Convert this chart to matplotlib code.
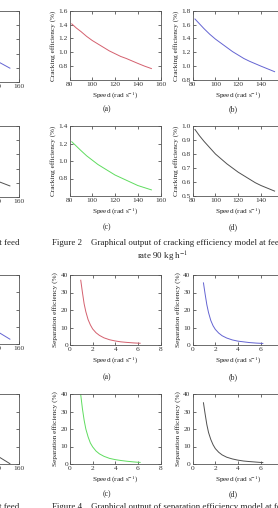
import matplotlib
matplotlib.use('Agg')
import matplotlib.pyplot as plt
from matplotlib.ticker import FormatStrFormatter

plt.rcParams['font.family'] = ['Liberation Serif', 'DejaVu Serif']
plt.rcParams['mathtext.fontset'] = 'stix'

# cracking efficiency (%) vs speed (rad/s), figure 2 (a)-(d)
crack_speed = [82, 86, 90, 95, 100, 105, 110, 115, 120, 125, 130, 135, 140, 146, 152]
crack_a = [1.41, 1.35, 1.30, 1.23, 1.17, 1.12, 1.07, 1.02, 0.98, 0.94, 0.91, 0.875, 0.84, 0.80, 0.765]
crack_b = [1.68, 1.61, 1.54, 1.46, 1.39, 1.33, 1.27, 1.21, 1.16, 1.11, 1.07, 1.035, 1.00, 0.96, 0.92]
crack_c = [1.22, 1.17, 1.12, 1.06, 1.01, 0.96, 0.92, 0.88, 0.84, 0.81, 0.78, 0.75, 0.72, 0.695, 0.67]
crack_d = [0.975, 0.93, 0.89, 0.845, 0.80, 0.765, 0.73, 0.70, 0.67, 0.645, 0.62, 0.595, 0.575, 0.555, 0.535]

# separation efficiency (%) vs speed (rad/s), figure 4 (a)-(d)
sep_speed = [0.95, 1.1, 1.25, 1.4, 1.6, 1.8, 2.0, 2.3, 2.6, 3.0, 3.5, 4.0, 4.5, 5.0, 5.6, 6.2]
sep_a = [37, 30, 23.5, 19, 14.5, 11.5, 9.2, 7.0, 5.5, 4.1, 3.0, 2.3, 1.8, 1.5, 1.2, 1.0]
sep_b = [35.5, 29, 23, 18.5, 14, 11, 8.9, 6.8, 5.3, 4.0, 2.9, 2.2, 1.8, 1.4, 1.1, 0.9]
sep_c = [39.5, 31.5, 25, 20, 15.5, 12, 9.8, 7.4, 5.8, 4.4, 3.2, 2.5, 2.0, 1.6, 1.2, 0.9]
sep_d = [35, 28.5, 22.5, 18, 14, 11, 8.8, 6.7, 5.2, 3.9, 2.9, 2.2, 1.7, 1.4, 1.1, 0.8]

# neighbouring column (only the right edge is on the page crop)
left_speed = [82, 90, 100, 110, 120, 130, 140, 152]
left_crack1 = [1.75, 1.60, 1.45, 1.34, 1.24, 1.16, 1.10, 0.995]
left_crack2 = [1.0, 0.92, 0.84, 0.77, 0.71, 0.66, 0.615, 0.578]
left_sep1 = [38, 30, 23, 18, 14, 10.5, 7.6, 2.8]
left_sep2 = [36, 28, 21, 16, 12, 8.5, 5.0, 0.2]

RED, BLUE, GREEN, GREY = '#d4606e', '#6464d2', '#5fdc5f', '#505050'
W, H = 278, 508
fig = plt.figure(figsize=(W / 100, H / 100), dpi=100)
fig.patch.set_facecolor('white')


def px_axes(x0, y0, x1, y1):
    return fig.add_axes([x0 / W, 1 - y1 / H, (x1 - x0) / W, (y1 - y0) / H])


def style(ax, xlim, ylim, xticks, yticks, ylabel, fmt):
    ax.set_xlim(xlim)
    ax.set_ylim(ylim)
    ax.set_xticks(xticks)
    ax.set_yticks(yticks)
    ax.yaxis.set_major_formatter(FormatStrFormatter(fmt))
    ax.tick_params(direction='in', top=True, right=True, length=2, width=0.5,
                   labelsize=5.3, pad=1.5, colors='#333333')
    for s in ax.spines.values():
        s.set_linewidth(0.6)
        s.set_color('#555555')
    ax.set_xlabel('Speed (rad s$^{-1}$)', fontsize=5.2, labelpad=2.3, color='#222222')
    ax.set_ylabel(ylabel, fontsize=5.2, labelpad=1.8, color='#222222')


def label(x, y, s, size=5.6, ha='center'):
    fig.text(x / W, 1 - y / H, s, fontsize=size, ha=ha, va='center', color='#222222')


crack_lab = 'Cracking efficiency (%)'
sep_lab = 'Separation efficiency (%)'
cx = [80, 100, 120, 140, 160]
sx = [0, 2, 4, 6, 8]
sy = [0, 10, 20, 30, 40]

rows = [(10.7, 80), (126, 196), (275, 345), (394, 464)]

# cracking
ax = px_axes(-72, 11, 19, 82)
ax.plot(left_speed, left_crack1, color=BLUE, lw=0.7)
style(ax, (80, 160), (0.8, 1.8), cx, [0.8, 1.0, 1.2, 1.4, 1.6, 1.8], crack_lab, '%.1f')

ax = px_axes(69.5, rows[0][0], 160.5, rows[0][1])
ax.plot(crack_speed, crack_a, color=RED, lw=0.7)
style(ax, (80, 160), (0.6, 1.6), cx, [0.8, 1.0, 1.2, 1.4, 1.6], crack_lab, '%.1f')

ax = px_axes(192.7, rows[0][0], 283.7, rows[0][1])
ax.plot(crack_speed, crack_b, color=BLUE, lw=0.7)
style(ax, (80, 160), (0.8, 1.8), cx, [0.8, 1.0, 1.2, 1.4, 1.6, 1.8], crack_lab, '%.1f')

ax = px_axes(-72, 126, 19, 197)
ax.plot(left_speed, left_crack2, color=GREY, lw=0.7)
style(ax, (80, 160), (0.5, 1.0), cx, [0.5, 0.6, 0.7, 0.8, 0.9, 1.0], crack_lab, '%.1f')

ax = px_axes(69.5, rows[1][0], 160.5, rows[1][1])
ax.plot(crack_speed, crack_c, color=GREEN, lw=0.7)
style(ax, (80, 160), (0.6, 1.4), cx, [0.8, 1.0, 1.2, 1.4], crack_lab, '%.1f')

ax = px_axes(192.7, rows[1][0], 283.7, rows[1][1])
ax.plot(crack_speed, crack_d, color=GREY, lw=0.7)
style(ax, (80, 160), (0.5, 1.0), cx, [0.5, 0.6, 0.7, 0.8, 0.9, 1.0], crack_lab, '%.1f')

# separation
ax = px_axes(-72, 275, 19, 344)
ax.plot(left_speed, left_sep1, color=BLUE, lw=0.7)
style(ax, (80, 160), (0, 40), cx, sy, sep_lab, '%d')

ax = px_axes(70, rows[2][0], 160.5, rows[2][1])
ax.plot(sep_speed, sep_a, color=RED, lw=0.7)
style(ax, (0, 8), (0, 40), sx, sy, sep_lab, '%d')

ax = px_axes(192.7, rows[2][0], 283.2, rows[2][1])
ax.plot(sep_speed, sep_b, color=BLUE, lw=0.7)
style(ax, (0, 8), (0, 40), sx, sy, sep_lab, '%d')

ax = px_axes(-72, 394, 19, 464)
ax.plot(left_speed, left_sep2, color=GREY, lw=0.7)
style(ax, (80, 160), (0, 40), cx, sy, sep_lab, '%d')

ax = px_axes(70, rows[3][0], 160.5, rows[3][1])
ax.plot(sep_speed, sep_c, color=GREEN, lw=0.7)
style(ax, (0, 8), (0, 40), sx, sy, sep_lab, '%d')

ax = px_axes(192.7, rows[3][0], 283.2, rows[3][1])
ax.plot(sep_speed, sep_d, color=GREY, lw=0.7)
style(ax, (0, 8), (0, 40), sx, sy, sep_lab, '%d')

# panel letters
for y, (l1, l2) in zip([109.5, 227, 377, 494], [('(a)', '(b)'), ('(c)', '(d)'),
                                                ('(a)', '(b)'), ('(c)', '(d)')]):
    label(106.5, y, l1)
    label(233, y, l2)

# captions
label(51.7, 242.7, 'Figure 2    Graphical output of cracking efficiency model at feed', 6.4, 'left')
label(163, 256.5, 'rate 90 kg h$^{-1}$', 6.4)
label(19, 242.7, 'Figure 1    Graphical output of cracking efficiency model at feed', 6.4, 'right')
label(51.7, 507, 'Figure 4    Graphical output of separation efficiency model at feed', 6.4, 'left')
label(19, 507, 'Figure 3    Graphical output of separation efficiency model at feed', 6.4, 'right')

fig.savefig('out.png', dpi=100)
